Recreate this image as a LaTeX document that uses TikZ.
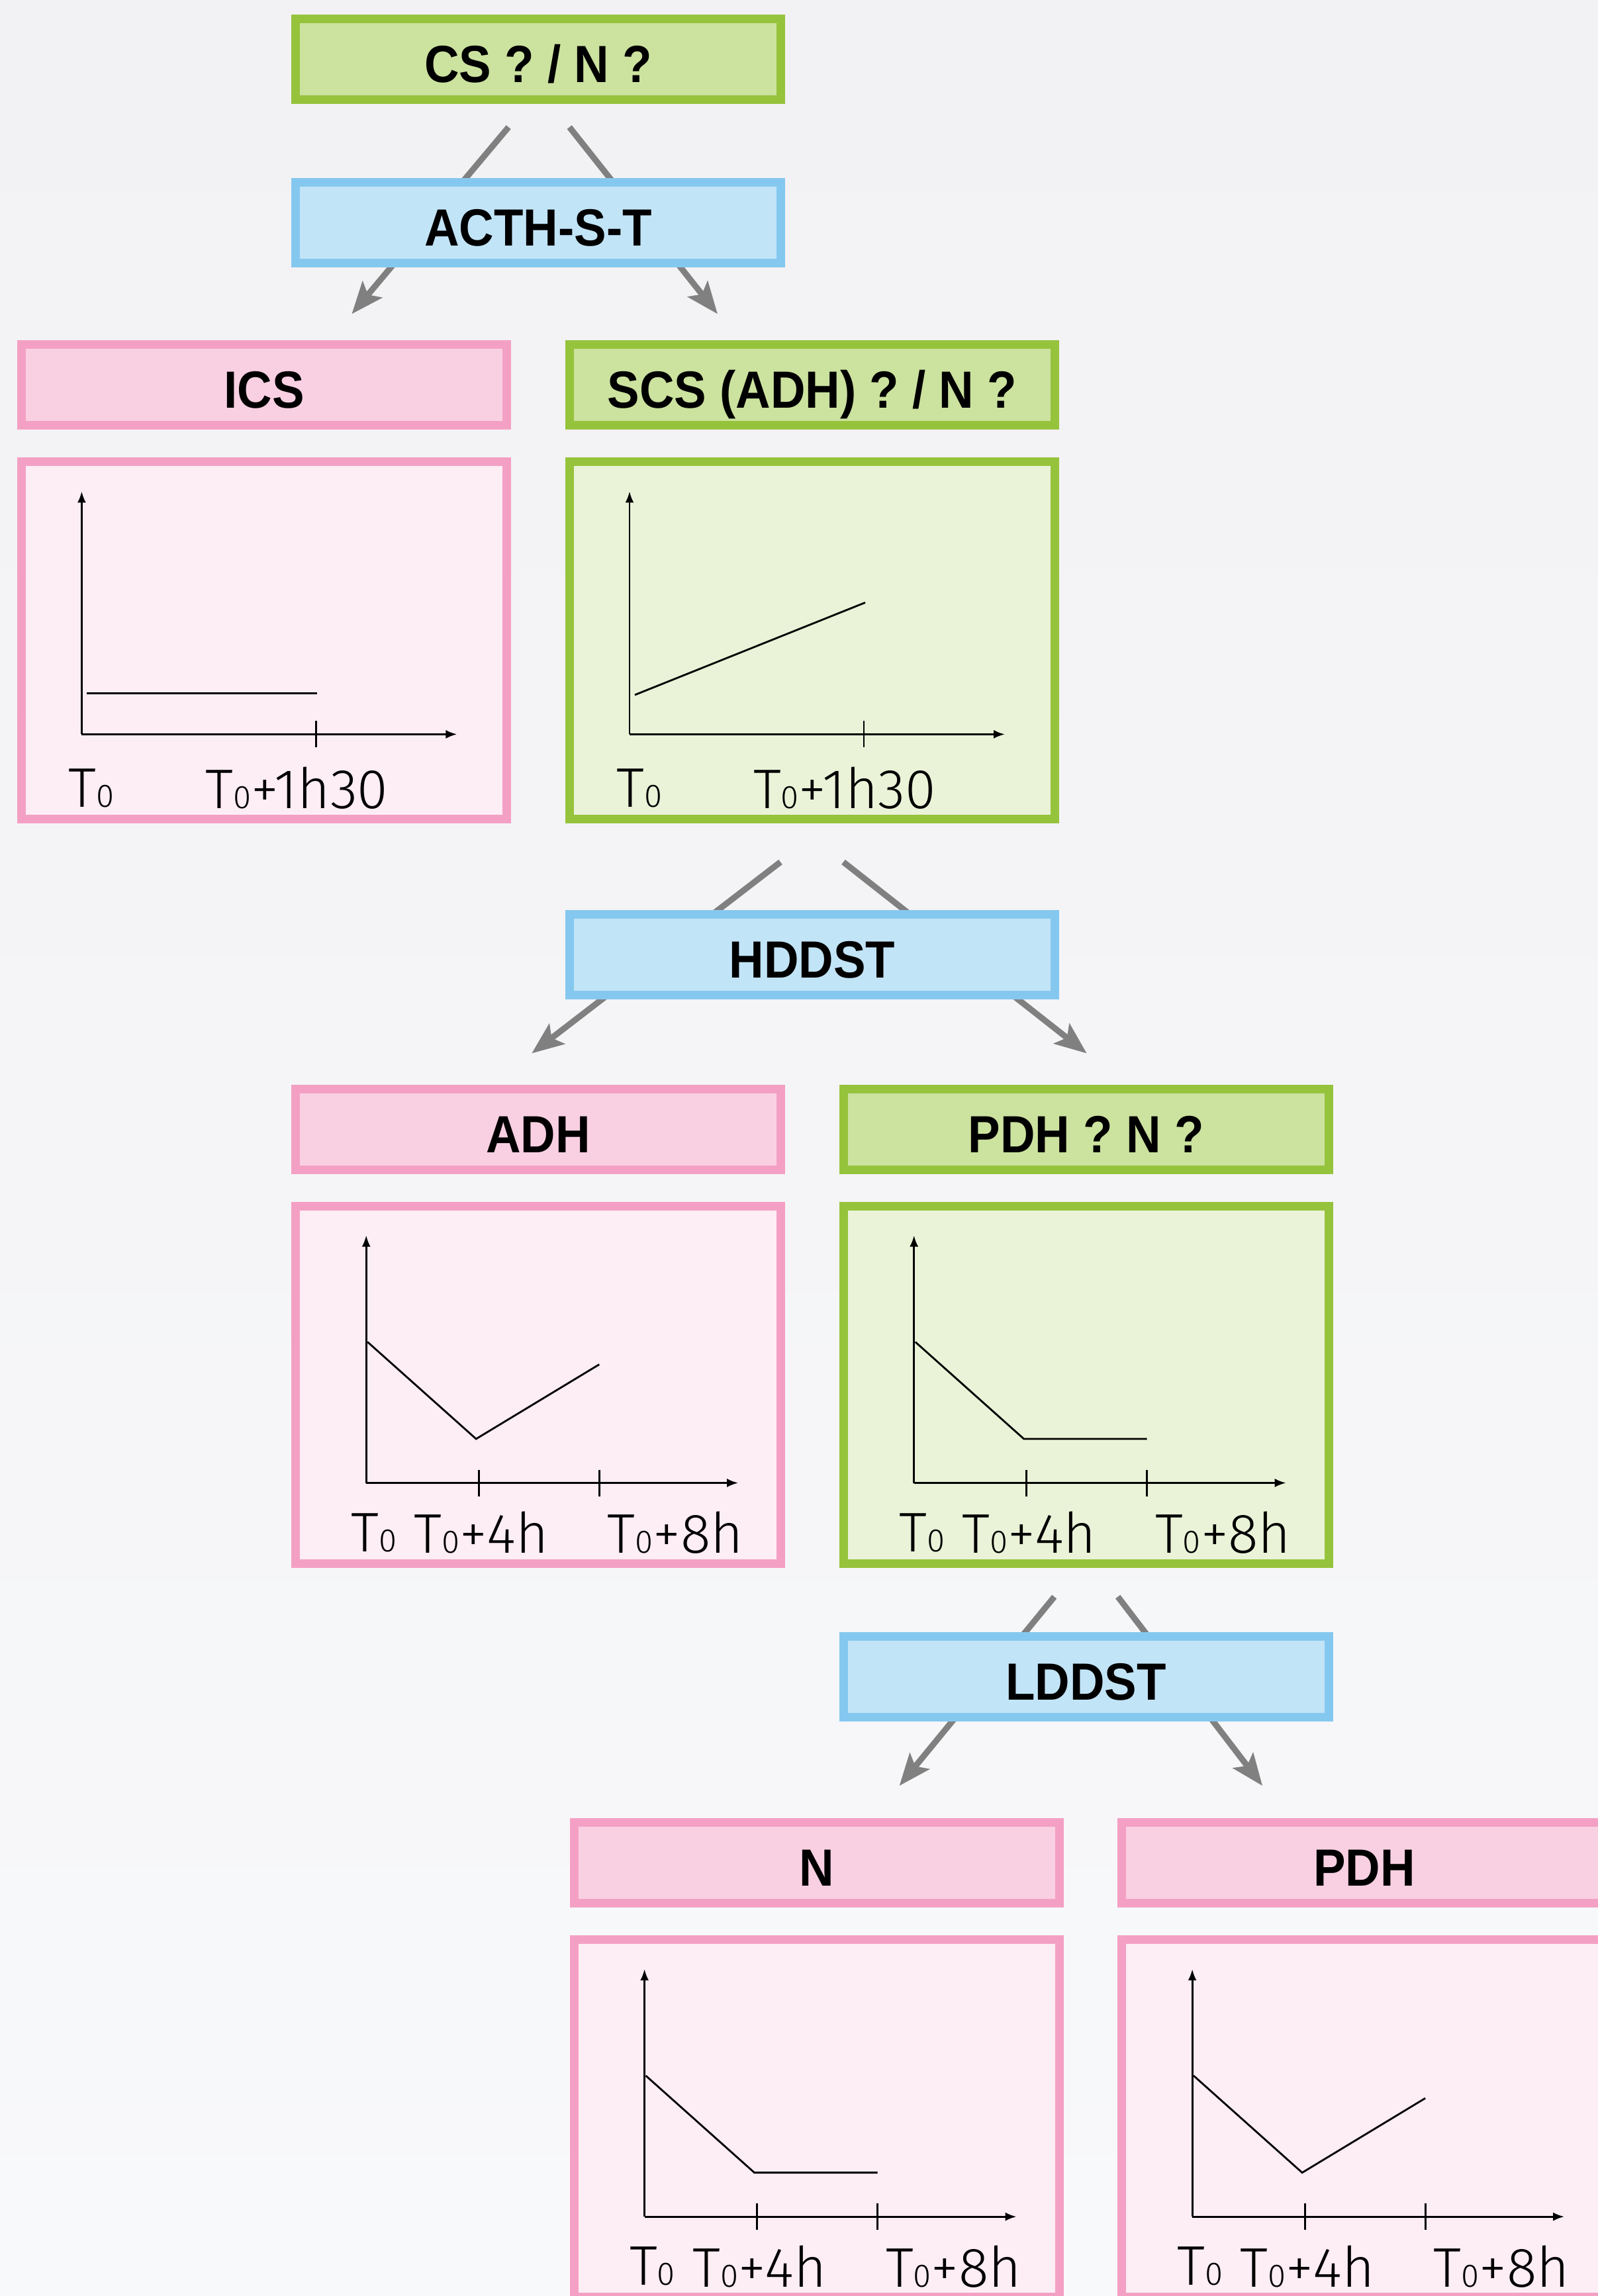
\documentclass[tikz,border=0pt]{standalone}
\usepackage{fontspec}
\newfontfamily\headfont{Liberation Sans}[FakeStretch=0.92]
\newfontfamily\tickfont{Fira Sans Light}
\usetikzlibrary{positioning,calc,arrows.meta}

\definecolor{bgtop}{HTML}{F2F1F3}
\definecolor{bgbottom}{HTML}{F8F9FB}
\definecolor{greenline}{HTML}{96C33C}
\definecolor{greenhead}{HTML}{CCE29F}
\definecolor{greenpale}{HTML}{EAF3D8}
\definecolor{pinkline}{HTML}{F4A0C4}
\definecolor{pinkhead}{HTML}{F9D0E2}
\definecolor{pinkpale}{HTML}{FDEDF4}
\definecolor{blueline}{HTML}{85C8EF}
\definecolor{bluehead}{HTML}{C2E4F7}
\definecolor{flowgray}{HTML}{808080}

\newcommand{\tsub}{{\fontsize{14pt}{15pt}\selectfont 0}}

\tikzset{
  box/.style={rectangle, line width=0.13cm, minimum width=7.33cm,
    minimum height=1.22cm, inner sep=0pt, text height=0.70cm, text depth=0pt,
    font=\headfont\bfseries\fontsize{22.5pt}{27pt}\selectfont},
  testbox/.style={box, draw=blueline, fill=bluehead},
  greenbox/.style={box, draw=greenline, fill=greenhead},
  pinkbox/.style={box, draw=pinkline, fill=pinkhead},
  greenplot/.style={box, draw=greenline, fill=greenpale, minimum height=5.40cm},
  pinkplot/.style={box, draw=pinkline, fill=pinkpale, minimum height=5.40cm},
  flow/.style={draw=flowgray, line width=2.6pt,
    -{Stealth[length=4.8mm,width=3.8mm,inset=1mm]}},
  axis/.style={line width=0.8pt, -{Latex[length=1.7mm,width=1.3mm]}},
  tickmark/.style={line width=0.8pt},
  trace/.style={line width=0.8pt},
  timelabel/.style={font=\tickfont\fontsize{24pt}{27pt}\selectfont, inner sep=0pt}
}

\begin{document}
\begin{tikzpicture}
    \useasboundingbox (0,0) rectangle (24.14,-34.69);
    \shade[top color=bgtop, bottom color=bgbottom] (0,0) rectangle (24.14,-34.69);

    % Headers and result boxes
    \node[greenbox] (cs) at (8.132,-0.896) {CS ? / N ?};
    \node[pinkbox] (ics) at (3.994,-5.819) {ICS};
    \node[greenbox] (scs) at (12.270,-5.819) {SCS (ADH) ? / N ?};
    \node[pinkplot, below=0.42cm of ics] (icsplot) {};
    \node[greenplot, below=0.42cm of scs] (scsplot) {};

    \node[pinkbox] (adh) at (8.132,-17.060) {ADH};
    \node[greenbox] (pdhq) at (16.407,-17.060) {PDH ? N ?};
    \node[pinkplot, below=0.42cm of adh] (adhplot) {};
    \node[greenplot, below=0.42cm of pdhq] (pdhqplot) {};

    \node[pinkbox] (normal) at (12.336,-28.146) {N};
    \node[pinkbox] (pdh) at (20.611,-28.146) {PDH};
    \node[pinkplot, below=0.42cm of normal] (normalplot) {};
    \node[pinkplot, below=0.42cm of pdh] (pdhplot) {};

    % Plots after 1h30
    \foreach \p/\ya/\yb in {icsplot/-3.56/-3.56, scsplot/-3.585/-2.19} {
        \begin{scope}[shift={(\p.north west)}]
            \draw[axis] (0.97,-4.18) -- (0.97,-0.51);
            \draw[axis] (0.97,-4.18) -- (6.64,-4.18);
            \draw[tickmark] (4.51,-3.98) -- (4.51,-4.38);
            \draw[trace] (1.05,\ya) -- (4.53,\yb);
            \node[timelabel] (\p-a) at (1.12,-4.99) {T\tsub};
            \node[timelabel] (\p-b) at (4.22,-4.99) {T\tsub+1h30};
        \end{scope}
    }

    % Plots after 4h and 8h
    \foreach \p/\yend in {adhplot/-2.46, pdhqplot/-3.585, normalplot/-3.585, pdhplot/-2.46} {
        \begin{scope}[shift={(\p.north west)}]
            \draw[axis] (1.13,-4.25) -- (1.13,-0.51);
            \draw[axis] (1.13,-4.25) -- (6.75,-4.25);
            \draw[tickmark] (2.83,-4.05) -- (2.83,-4.45);
            \draw[tickmark] (4.65,-4.05) -- (4.65,-4.45);
            \draw[trace] (1.15,-2.12) -- (2.79,-3.585) -- (4.65,\yend);
            \node[timelabel] (\p-a) at (1.25,-5.00) {T\tsub};
            \node[timelabel] (\p-b) at (2.87,-5.00) {T\tsub+4h};
            \node[timelabel] (\p-c) at (5.80,-5.00) {T\tsub+8h};
        \end{scope}
    }

    % Arrows, behind the tests
    \draw[flow] ($(cs.south)+(-0.45,-0.35)$) -- ($(ics.north)+(1.32,0.40)$);
    \draw[flow] ($(cs.south)+(0.47,-0.35)$) -- ($(scs.north)+(-1.43,0.40)$);
    \draw[flow] ($(scsplot.south)+(-0.48,-0.58)$) -- ($(adh.north)+(-0.10,0.47)$);
    \draw[flow] ($(scsplot.south)+(0.47,-0.58)$) -- ($(pdhq.north)+(0.01,0.47)$);
    \draw[flow] ($(pdhqplot.south)+(-0.48,-0.44)$) -- ($(normal.north)+(1.25,0.49)$);
    \draw[flow] ($(pdhqplot.south)+(0.48,-0.44)$) -- ($(pdh.north)+(-1.54,0.49)$);

    % Tests
    \node[testbox] (acth) at (8.132,-3.363) {ACTH-S-T};
    \node[testbox] (hddst) at (12.270,-14.427) {HDDST};
    \node[testbox] (lddst) at (16.407,-25.335) {LDDST};
\end{tikzpicture}
\end{document}
